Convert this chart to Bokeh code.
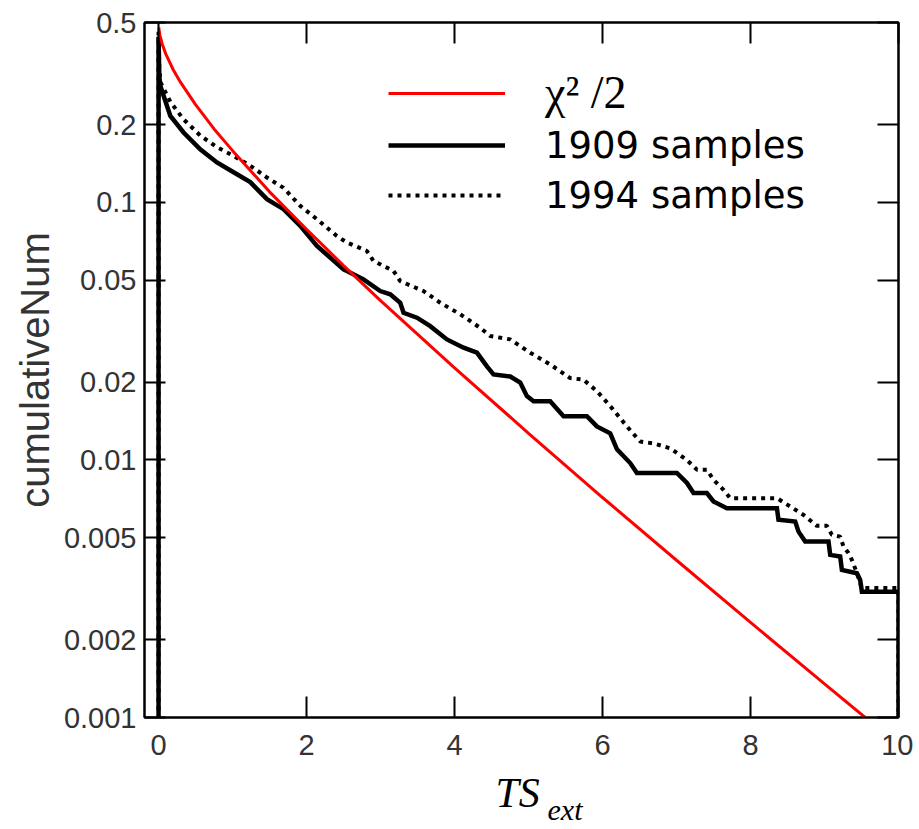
from bokeh.plotting import figure
from bokeh.layouts import column
from bokeh.models import (Range1d, FixedTicker, LogAxis, LinearAxis, Legend, LegendItem, Label)
from bokeh.embed import file_html
from bokeh.resources import INLINE

# ---------------- data ----------------
x_chi = [0.003, 0.01, 0.02, 0.05, 0.1, 0.2, 0.3, 0.5, 0.75, 1.0, 1.5, 2.0, 2.5, 3.0,
         4.0, 5.0, 6.0, 7.0, 8.0, 9.0, 9.55, 9.7]
y_chi = [0.478, 0.460, 0.444, 0.412, 0.376, 0.327, 0.292, 0.240, 0.193, 0.159, 0.110,
         0.0787, 0.0569, 0.0416, 0.0228, 0.0127, 0.00715, 0.00408, 0.00234, 0.00135,
         0.00100, 0.00092]

x_1909 = [0.0, 0.0, 0.01, 0.023, 0.159, 0.338, 0.563, 0.789, 1.014, 1.239, 1.465, 1.689,
          1.915, 2.141, 2.5, 2.77, 2.996, 3.131, 3.266, 3.311, 3.492, 3.672, 3.897, 4.122,
          4.303, 4.438, 4.527, 4.753, 4.888, 4.978, 5.068, 5.293, 5.473, 5.789, 5.924,
          6.104, 6.195, 6.374, 6.465, 7.005, 7.141, 7.23, 7.41, 7.5, 7.68, 8.357, 8.378,
          8.604, 8.649, 8.739, 9.054, 9.077, 9.212, 9.235, 9.438, 9.482, 9.505, 10.0, 10.0]
y_1909 = [1e-5, 0.44, 0.31, 0.284, 0.217, 0.187, 0.161, 0.143, 0.131, 0.120, 0.103, 0.0942,
          0.0811, 0.0678, 0.0550, 0.0503, 0.0453, 0.0440, 0.0408, 0.0373, 0.0357, 0.0331,
          0.0294, 0.0273, 0.0261, 0.0231, 0.0215, 0.0211, 0.0200, 0.0177, 0.0169, 0.0169,
          0.0148, 0.0148, 0.0135, 0.0127, 0.0110, 0.00973, 0.0089, 0.0089, 0.00814,
          0.00744, 0.00744, 0.0069, 0.0065, 0.0065, 0.00586, 0.00577, 0.00527, 0.00482,
          0.00482, 0.00428, 0.00422, 0.00374, 0.00363, 0.00342, 0.00308, 0.00308, 1e-5]

x_1994 = [0.0, 0.0, 0.01, 0.023, 0.159, 0.334, 0.563, 0.789, 1.009, 1.239, 1.465, 1.689,
          1.915, 2.141, 2.41, 2.546, 2.816, 2.905, 3.176, 3.266, 3.581, 3.807, 4.077, 4.347,
          4.482, 4.753, 5.023, 5.293, 5.563, 5.743, 5.924, 6.104, 6.33, 6.509, 6.689, 6.915,
          7.141, 7.276, 7.41, 7.5, 7.635, 7.725, 8.357, 8.536, 8.716, 8.897, 9.032, 9.1,
          9.212, 9.257, 9.324, 9.37, 9.438, 9.505, 10.0, 10.0]
y_1994 = [1e-5, 0.46, 0.33, 0.294, 0.246, 0.211, 0.182, 0.164, 0.152, 0.139, 0.125, 0.114,
          0.097, 0.0861, 0.0741, 0.0699, 0.0648, 0.0593, 0.0542, 0.0495, 0.0453, 0.0408,
          0.0368, 0.0326, 0.0303, 0.0294, 0.0261, 0.0235, 0.0208, 0.0205, 0.0185, 0.0162,
          0.0135, 0.0118, 0.0116, 0.0111, 0.0100, 0.00917, 0.00917, 0.00838, 0.00766,
          0.00711, 0.00711, 0.0066, 0.00612, 0.00555, 0.00555, 0.00512, 0.00504, 0.00461,
          0.00435, 0.00409, 0.00364, 0.00318, 0.00318, 1e-5]

x_ticks = [0, 2, 4, 6, 8, 10]
y_ticks = [0.001, 0.002, 0.005, 0.01, 0.02, 0.05, 0.1, 0.2, 0.5]
y_tick_labels = ["0.001", "0.002", "0.005", "0.01", "0.02", "0.05", "0.1", "0.2", "0.5"]

label_chi = "χ² /2"
label_1909 = "1909 samples"
label_1994 = "1994 samples"
x_title_main = "TS"
x_title_sub = "ext"
y_title = "cumulativeNum"

# ---------------- main figure ----------------
BL, BT, BR, BB = 144, 22, 15, 50
FW, FH = 754, 695
p = figure(width=BL + FW + BR, height=BT + FH + BB, y_axis_type="log",
           x_range=Range1d(-0.19, 10.0), y_range=Range1d(0.001, 0.5),
           output_backend="svg", toolbar_location=None,
           min_border_left=BL, min_border_top=BT, min_border_right=BR,
           min_border_bottom=BB)
p.background_fill_color = "white"
p.border_fill_color = "white"
p.outline_line_color = "black"
p.outline_line_width = 2
p.grid.visible = False

TICK_FONT = "Liberation Sans"

def style_axis(ax, show_labels, standoff):
    ax.axis_line_color = "black"
    ax.axis_line_width = 2
    ax.major_tick_in = 21
    ax.major_tick_out = 0
    ax.major_tick_line_width = 2
    ax.major_tick_line_color = "black"
    ax.minor_tick_line_color = None
    ax.major_label_text_font = TICK_FONT
    if show_labels:
        ax.major_label_text_color = "#333333"
        ax.major_label_text_font_size = "29px"
        ax.major_label_standoff = standoff
    else:
        ax.major_label_text_color = None
        ax.major_label_text_font_size = "1px"
        ax.major_label_standoff = 0

xa = p.xaxis[0]
xa.ticker = FixedTicker(ticks=x_ticks)
style_axis(xa, True, 17)

ya = p.yaxis[0]
ya.ticker = FixedTicker(ticks=y_ticks)
ya.major_label_overrides = {v: s for v, s in zip(y_ticks, y_tick_labels)}
style_axis(ya, True, 8)
ya.axis_label = y_title
ya.axis_label_text_font = TICK_FONT
ya.axis_label_text_font_style = "normal"
ya.axis_label_text_font_size = "40px"
ya.axis_label_text_color = "#333333"
ya.axis_label_standoff = 4

top = LinearAxis(ticker=FixedTicker(ticks=x_ticks))
style_axis(top, False, 0)
p.add_layout(top, "above")
right = LogAxis(ticker=FixedTicker(ticks=y_ticks))
style_axis(right, False, 0)
p.add_layout(right, "right")

# ---------------- curves ----------------
r1909 = p.line(x_1909, y_1909, line_color="black", line_width=4.5, line_join="miter")
r1994 = p.line(x_1994, y_1994, line_color="black", line_width=4, line_dash="4 5")
rchi = p.line(x_chi, y_chi, line_color="#ff0000", line_width=3)

# ---------------- legends ----------------
leg1 = Legend(items=[LegendItem(label=label_chi, renderers=[rchi])],
              location=(244, 598), glyph_width=117, glyph_height=50, label_height=50,
              label_standoff=40, spacing=0, padding=0, margin=0,
              border_line_color=None, background_fill_alpha=0,
              label_text_font="Liberation Serif", label_text_font_size="46px",
              label_text_color="black")
leg2 = Legend(items=[LegendItem(label=label_1909, renderers=[r1909]),
                     LegendItem(label=label_1994, renderers=[r1994])],
              location=(244, 497), glyph_width=117, glyph_height=50, label_height=50,
              label_standoff=40, spacing=0, padding=0, margin=0,
              border_line_color=None, background_fill_alpha=0,
              label_text_font="DejaVu Sans", label_text_font_size="37px",
              label_text_color="black")
p.add_layout(leg1, "center")
p.add_layout(leg2, "center")

# ---------------- x axis title strip (TS with subscript ext) ----------------
H2 = 62
p2 = figure(width=BL + FW + BR, height=H2, x_range=Range1d(0, 1), y_range=Range1d(0, 1),
            x_axis_type=None, y_axis_type=None, output_backend="svg",
            toolbar_location=None, min_border_left=0, min_border_right=0,
            min_border_top=0, min_border_bottom=0)
p2.outline_line_color = None
p2.grid.visible = False
p2.background_fill_color = "white"
p2.border_fill_color = "white"
p2.add_layout(Label(x=351, y=37, x_units="screen", y_units="screen", text=x_title_main,
                    text_font="Liberation Serif", text_font_style="italic",
                    text_font_size="42px", text_color="black",
                    text_baseline="alphabetic", text_align="left"))
p2.add_layout(Label(x=403, y=20, x_units="screen", y_units="screen", text=x_title_sub,
                    text_font="Liberation Serif", text_font_style="italic",
                    text_font_size="30px", text_color="black",
                    text_baseline="alphabetic", text_align="left"))

layout = column(p, p2, spacing=0)
open("out.html", "w").write(file_html(layout, INLINE))
